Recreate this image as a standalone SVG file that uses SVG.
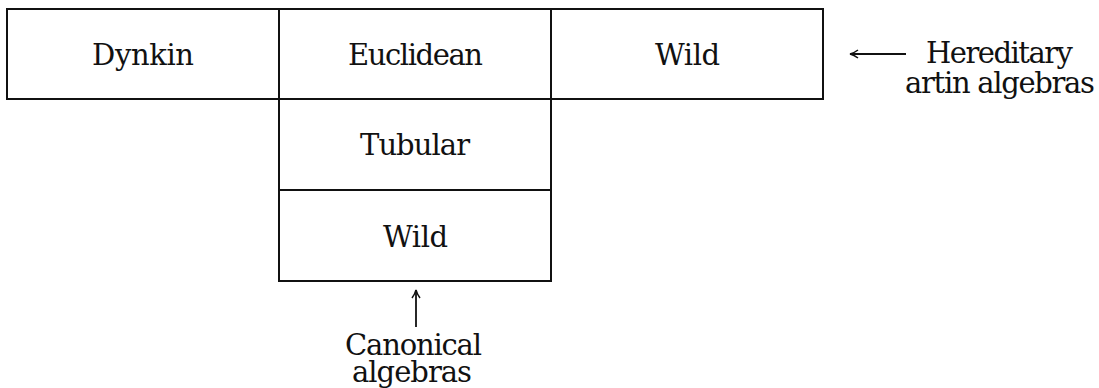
<svg xmlns="http://www.w3.org/2000/svg" width="1099" height="388" viewBox="0 0 1099 388">
<style>
.box{fill:none;stroke:#111;stroke-width:2}
.t{font-family:'DejaVu Serif','Liberation Serif',serif;font-size:29px;fill:#111;text-anchor:middle}
.c{stroke:#111;stroke-width:1.8;fill:none}
</style>
<defs>
<marker id="ah" viewBox="0 0 10 10" refX="9" refY="5" markerWidth="10" markerHeight="10" markerUnits="userSpaceOnUse" orient="auto">
<path d="M1,1 Q5,4 9,5 Q5,6 1,9" fill="none" stroke="#111" stroke-width="1.5"/>
</marker>
</defs>
<rect width="1099" height="388" fill="#fff"/>
<g id="dynkin"><rect class="box" x="7" y="9" width="272" height="90"/><text class="t" x="143" y="65" textLength="102">Dynkin</text></g>
<g id="euclidean"><rect class="box" x="279" y="9" width="272" height="90"/><text class="t" x="415.5" y="65" textLength="135">Euclidean</text></g>
<g id="wild-top"><rect class="box" x="551" y="9" width="272" height="90"/><text class="t" x="687.5" y="65" textLength="65">Wild</text></g>
<g id="tubular"><rect class="box" x="279" y="99" width="272" height="91"/><text class="t" x="415" y="155" textLength="110">Tubular</text></g>
<g id="wild-bottom"><rect class="box" x="279" y="190" width="272" height="91"/><text class="t" x="415.5" y="247" textLength="65">Wild</text></g>
<g id="hereditary"><text class="t" x="999.5" y="63" textLength="147">Hereditary</text><text class="t" x="1000" y="93" textLength="190">artin algebras</text></g>
<g id="canonical"><text class="t" x="413.5" y="355" textLength="137">Canonical</text><text class="t" x="412" y="382" textLength="120">algebras</text></g>
<g id="connectors">
<line class="c" x1="906" y1="54" x2="850" y2="54" marker-end="url(#ah)"/>
<line class="c" x1="416" y1="327" x2="416" y2="290" marker-end="url(#ah)"/>
</g>
</svg>
